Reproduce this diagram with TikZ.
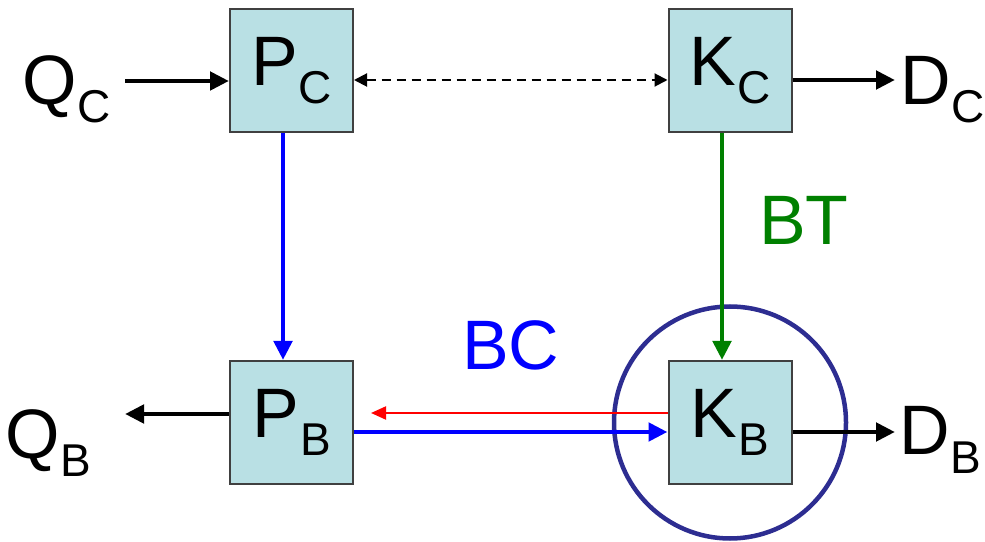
\documentclass[tikz,border=0pt]{standalone}
\usepackage{fontspec}
\setmainfont{Liberation Sans}
\usetikzlibrary{arrows.meta,positioning}
\definecolor{boxfill}{RGB}{185,224,228}
\definecolor{ringblue}{RGB}{45,45,145}
\definecolor{bcblue}{RGB}{0,0,255}
\definecolor{btgreen}{RGB}{0,128,0}
\newcommand{\lbl}[2]{#1\kern1pt\raisebox{-18pt}{\fontsize{46}{46}\selectfont #2}}
\tikzset{
  blk/.style={draw=black!75, line width=2pt, fill=boxfill, minimum size=123pt,
    inner sep=0pt, font=\fontsize{70}{70}\selectfont},
  txt/.style={anchor=base west, inner sep=0pt, font=\fontsize{70}{70}\selectfont},
  flow/.style={line width=4.8pt, -{Triangle[length=19pt,width=18pt]}},
  thinflow/.style={line width=2pt, -{Triangle[length=15pt,width=13pt]}},
}
\begin{document}
\begin{tikzpicture}[x=1pt, y=1pt]
    \useasboundingbox (0,0) rectangle (985,541);
    % 1. 定义坐标 (箭头的自由端)
    \coordinate (qcin) at (125,460);
    \coordinate (qbout) at (125,127);
    \coordinate (dcin) at (895,461);
    \coordinate (dbin) at (895,109);
    % 2. 四个方框
    \node[blk] (PC) at (291.5,470.5) {\lbl{P}{C}};
    \node[blk] (KC) at (730,470.5) {\lbl{K}{C}};
    \node[blk] (PB) at (291.5,118.5) {\lbl{P}{B}};
    \node[blk] (KB) at (730,118.5) {\lbl{K}{B}};
    % 3. K_B 外面的圆
    \node[draw=ringblue, line width=4.5pt, circle, minimum size=232pt] (ring) at (KB) {};
    % 4. 外部标签
    \node[txt] (QC) at (22,436) {\lbl{Q}{C}};
    \node[txt] (QB) at (5,83) {\lbl{Q}{B}};
    \node[txt] (DC) at (900,436) {\lbl{D}{C}};
    \node[txt] (DB) at (899,86) {\lbl{D}{B}};
    \node[txt, text=bcblue] (BC) at (462,171) {BC};
    \node[txt, text=btgreen] (BT) at (759,296) {BT};
    % 5. 黑色箭头 (输入/输出)
    \draw[flow] (qcin) -- (qcin -| PC.west);
    \draw[flow] ([yshift=8.5pt]PB.west) -- (qbout);
    \draw[flow] ([yshift=-9.5pt]KC.east) -- (dcin);
    \draw[flow] ([yshift=-9.5pt]KB.east) -- (dbin);
    % 虚线双向箭头
    \draw[line width=2pt, dash pattern=on 9pt off 6pt,
        {Triangle[length=13pt,width=13pt]}-{Triangle[length=13pt,width=13pt]}]
        ([yshift=-9.5pt]PC.east) -- ([yshift=-9.5pt]KC.west);
    % 6. 竖直箭头
    \draw[flow, bcblue] ([xshift=-8.5pt]PC.south) -- ([xshift=-8.5pt]PB.north);
    \draw[flow, btgreen] ([xshift=-8pt]KC.south) -- ([xshift=-8pt]KB.north);
    % 7. 下方水平箭头
    \draw[thinflow, red] ([yshift=9.5pt]KB.west) -- ([yshift=9.5pt, xshift=17pt]PB.east);
    \draw[flow, bcblue] ([yshift=-9.5pt]PB.east) -- ([yshift=-9.5pt]KB.west);
\end{tikzpicture}
\end{document}
